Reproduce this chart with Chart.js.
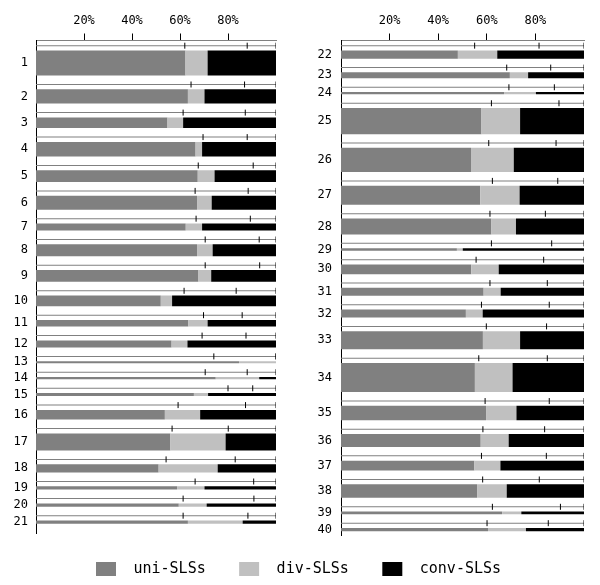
<!DOCTYPE html>
<html>
<head>
<meta charset="utf-8">
<script src="https://cdn.jsdelivr.net/npm/chart.js@4.4.1/dist/chart.umd.min.js"></script>
<style>
body { margin: 0; background: #fff; width: 600px; height: 585px; position: relative; overflow: hidden; }
.box { position: absolute; }
</style>
</head>
<body>
<div class="box" style="left:0;top:0;width:300px;height:540px"><canvas id="left"></canvas></div>
<div class="box" style="left:300px;top:0;width:300px;height:540px"><canvas id="right"></canvas></div>
<div class="box" style="left:0;top:551px;width:600px;height:34px"><canvas id="legend"></canvas></div>
<script>
// left panel (1-21)
var leftCats = ['1','2','3','4','5','6','7','8','9','10','11','12','13','14','15','16','17','18','19','20','21']
var leftSize = [25, 14.3, 10.7, 14.6, 11.6, 14, 7, 12, 11.7, 10.6, 6.6, 7, 2, 2.3, 3, 9.7, 17, 8.3, 3.3, 3.3, 3.3]
var leftUni  = [62.3, 63.3, 54.8, 66.5, 67.4, 67.1, 62.4, 67.1, 67.7, 52.0, 63.5, 56.5, 84.6, 74.9, 65.8, 53.7, 56.0, 51.1, 58.8, 59.5, 63.3]
var leftDiv  = [9.2, 6.9, 6.5, 2.7, 7.0, 6.1, 6.8, 6.5, 5.3, 4.7, 8.0, 6.6, 15.4, 18.1, 5.9, 14.7, 23.0, 24.6, 11.4, 11.6, 22.8]
var leftConv = [28.5, 29.8, 38.7, 30.8, 25.6, 26.8, 30.8, 26.4, 27.0, 43.3, 28.5, 36.9, 0, 7.0, 28.3, 31.6, 21.0, 24.3, 29.8, 28.9, 13.9]
// expected shares (ticks on the thin line above each bar)
var leftExpUni = [62.0, 64.6, 61.3, 69.6, 67.6, 66.3, 66.7, 70.5, 70.5, 61.7, 69.8, 69.2, 74.1, 70.5, 80.0, 59.2, 56.7, 54.2, 66.3, 61.3, 61.3]
var leftExpDiv = [26.0, 22.3, 25.9, 18.4, 22.9, 22.1, 22.6, 22.5, 22.7, 21.7, 16.1, 18.3, 25.9, 17.5, 10.3, 28.1, 23.4, 28.8, 24.4, 29.5, 27.0]

// right panel (22-40)
var rightCats = ['22','23','24','25','26','27','28','29','30','31','32','33','34','35','36','37','38','39','40']
var rightSize = [8.3, 6, 2.3, 26.3, 24.3, 19.3, 16, 2.7, 9.7, 8, 8, 18.3, 29.3, 14.6, 13, 10, 13.7, 2.7, 3.3]
var rightUni  = [48.1, 69.5, 67.1, 57.8, 53.5, 57.3, 61.9, 47.7, 53.6, 58.7, 51.4, 58.4, 55.1, 59.7, 57.5, 54.9, 56.0, 66.3, 60.5]
var rightDiv  = [16.2, 7.5, 13.1, 15.9, 17.6, 16.2, 10.1, 2.4, 11.3, 7.0, 6.9, 15.3, 15.5, 12.5, 11.5, 10.7, 12.2, 7.9, 15.6]
var rightConv = [35.7, 23.0, 19.8, 26.3, 28.9, 26.5, 28.0, 49.9, 35.1, 34.3, 41.7, 26.3, 29.4, 27.8, 31.0, 34.4, 31.8, 25.8, 23.9]
var rightExpUni = [55.0, 68.2, 69.1, 61.9, 60.8, 62.3, 61.3, 61.9, 55.6, 61.3, 57.8, 59.8, 56.7, 59.3, 58.4, 57.8, 58.3, 62.3, 60.1]
var rightExpDiv = [26.5, 18.1, 18.7, 27.8, 27.7, 26.9, 22.8, 24.8, 27.8, 23.6, 27.9, 24.8, 28.2, 26.4, 25.4, 26.7, 23.3, 28.0, 25.2]

var seriesNames = ['uni-SLSs', 'div-SLSs', 'conv-SLSs']
var seriesColors = ['#808080', '#c0c0c0', '#000000']

Chart.defaults.font.family = "'DejaVu Sans Mono', monospace"
Chart.defaults.font.size = 12
Chart.defaults.color = '#000'

// row layout in y units
var ROW_GAP = 13.8, REF_OFF = 5.2, BAR_OFF = 10

function rowLayout(sizes, endPad) {
	var y = 0, refs = [], centers = []
	for (var i = 0; i < sizes.length; i++) {
		refs.push(y + REF_OFF)
		centers.push(y + BAR_OFF + sizes[i] / 2)
		y += sizes[i] + ROW_GAP
	}
	return { refs: refs, centers: centers, total: y + endPad }
}

function panel(canvasId, cats, sizes, uni, div, conv, expUni, expDiv, opt) {
	var lay = rowLayout(sizes, opt.endPad)
	var datasets = []
	var thick = []

	// thin reference line per row
	datasets.push({
		type: 'bar', indexAxis: 'y', grouped: false,
		data: lay.refs.map(function (r) { return { x: [0, 100], y: r } }),
		backgroundColor: '#808080',
		barPercentage: 1000, categoryPercentage: 1, inflateAmount: 0,
		maxBarThickness: 1, order: 2
	})
	thick.push(null)

	// tick marks on the reference line
	var pts = []
	for (var i = 0; i < cats.length; i++) {
		pts.push({ x: expUni[i], y: lay.refs[i] })
		pts.push({ x: expUni[i] + expDiv[i], y: lay.refs[i] })
		pts.push({ x: 100, y: lay.refs[i] })
	}
	datasets.push({
		type: 'scatter', data: pts,
		pointStyle: 'line', rotation: 90, radius: 3, hoverRadius: 3,
		borderColor: '#000', borderWidth: 1, order: 0
	})
	thick.push(null)

	// stacked bars, one dataset per row so each row has its own thickness
	for (var j = 0; j < cats.length; j++) {
		var a = uni[j], b = uni[j] + div[j], c = b + conv[j]
		datasets.push({
			type: 'bar', indexAxis: 'y', grouped: false,
			data: [
				{ x: [0, a], y: lay.centers[j] },
				{ x: [a, b], y: lay.centers[j] },
				{ x: [b, c], y: lay.centers[j] }
			],
			backgroundColor: seriesColors,
			barPercentage: 1000, categoryPercentage: 1, inflateAmount: 0,
			maxBarThickness: sizes[j], order: 1
		})
		thick.push(sizes[j])
	}

	var chart = new Chart(document.getElementById(canvasId), {
		type: 'bar',
		data: { datasets: datasets },
		options: {
			animation: false,
			responsive: true,
			maintainAspectRatio: false,
			layout: { autoPadding: false, padding: { top: 0, right: opt.padRight, bottom: opt.padBottom, left: 0 } },
			plugins: { legend: { display: false }, tooltip: { enabled: false } },
			scales: {
				x: {
					type: 'linear', position: 'top', min: 0, max: 100, offset: false,
					afterBuildTicks: function (s) { s.ticks = [20, 40, 60, 80].map(function (v) { return { value: v } }) },
					afterFit: function (s) { s.height = 40.5; s.paddingLeft = 0; s.paddingRight = 0 },
					ticks: { callback: function (v) { return v + '%' }, padding: 5, maxRotation: 0 },
					grid: { offset: false, drawOnChartArea: false, drawTicks: true, tickLength: 7, tickColor: '#000' },
					border: { display: true, color: '#808080', width: 1 }
				},
				y: {
					type: 'linear', reverse: true, min: 0, max: lay.total, offset: false,
					afterBuildTicks: function (s) { s.ticks = lay.centers.map(function (v) { return { value: v } }) },
					afterFit: function (s) { s.width = opt.axisWidth; s.paddingTop = 0; s.paddingBottom = 0 },
					ticks: { callback: function (v, i) { return cats[i] }, padding: opt.labelPad, autoSkip: false },
					grid: { display: false, drawTicks: false },
					border: { display: true, color: '#000', width: 1 }
				}
			}
		}
	})

	// bar thickness in pixels follows the y scale
	var ys = chart.scales.y
	var k = Math.abs(ys.getPixelForValue(1) - ys.getPixelForValue(0))
	chart.data.datasets.forEach(function (ds, i) {
		if (thick[i] !== null) ds.maxBarThickness = thick[i] * k
	})
	chart.update('none')
	return chart
}

panel('left', leftCats, leftSize, leftUni, leftDiv, leftConv, leftExpUni, leftExpDiv,
	{ endPad: 5.4, axisWidth: 36, padRight: 24, padBottom: 7, labelPad: 8 })
panel('right', rightCats, rightSize, rightUni, rightDiv, rightConv, rightExpUni, rightExpDiv,
	{ endPad: 0, axisWidth: 41, padRight: 16, padBottom: 5, labelPad: 9 })

// legend swatch: transparent lead-in, then the colour box
function swatch(color) {
	var cv = document.createElement('canvas')
	cv.width = 53
	cv.height = 14
	var ctx = cv.getContext('2d')
	ctx.fillStyle = color
	ctx.fillRect(23, 0, 20, 14)
	return cv
}

new Chart(document.getElementById('legend'), {
	type: 'bar',
	data: {
		labels: [],
		datasets: seriesNames.map(function (n, i) {
			return { label: n, data: [], backgroundColor: seriesColors[i] }
		})
	},
	options: {
		animation: false,
		responsive: true,
		maintainAspectRatio: false,
		layout: { padding: { right: 26 } },
		scales: { x: { display: false }, y: { display: false } },
		plugins: {
			tooltip: { enabled: false },
			legend: {
				display: true,
				position: 'top',
				maxHeight: 60,
				labels: {
					usePointStyle: true,
					pointStyleWidth: 53,
					boxHeight: 14,
					padding: 10.4,
					font: { size: 15 },
					color: '#000',
					generateLabels: function (chart) {
						var items = Chart.defaults.plugins.legend.labels.generateLabels(chart)
						items.forEach(function (it, i) { it.pointStyle = swatch(seriesColors[i]) })
						return items
					}
				}
			}
		}
	}
})
</script>
</body>
</html>
